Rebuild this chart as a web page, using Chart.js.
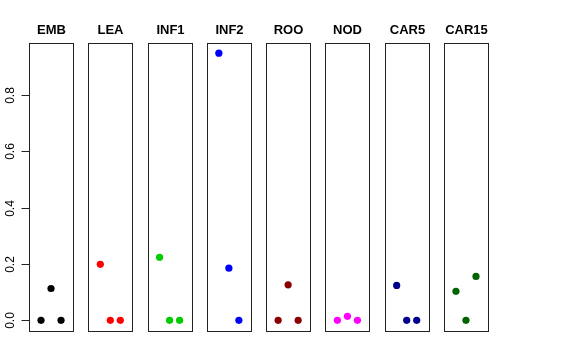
<!DOCTYPE html>
<html>
<head>
<meta charset="utf-8">
<script src="https://cdn.jsdelivr.net/npm/chart.js@4/dist/chart.umd.min.js"></script>
<style>
  html, body { margin: 0; padding: 0; background: #fff; }
  #wrap { width: 576px; height: 360px; }
</style>
</head>
<body>
<div id="wrap"><canvas id="c" width="576" height="360"></canvas></div>
<script>
// panel names, point colours and the three values in each panel
const tissues = ["EMB", "LEA", "INF1", "INF2", "ROO", "NOD", "CAR5", "CAR15"];
const colors = ["#000000", "#FF0000", "#00CD00", "#0000FF", "#8B0000", "#FF00FF", "#00008B", "#006400"];
const emb   = [0, 0.113, 0];
const lea   = [0.199, 0, 0];
const inf1  = [0.224, 0, 0];
const inf2  = [0.949, 0.185, 0];
const roo   = [0, 0.126, 0];
const nod   = [0, 0.014, 0];
const car5  = [0.124, 0, 0];
const car15 = [0.103, 0, 0.156];
const values = [emb, lea, inf1, inf2, roo, nod, car5, car15];
const yTicks = [0, 0.2, 0.4, 0.6, 0.8];

// panel geometry in x units
const panelW = 4.4, pitch = 5.92, firstPt = 1.2;

const datasets = values.map((vals, i) => ({
  label: tissues[i],
  data: vals.map((v, j) => ({ x: i * pitch + firstPt + j, y: v })),
  backgroundColor: colors[i],
  borderWidth: 0,
  pointRadius: 3.6,
  showLine: false
}));

const panels = {
  id: "panels",
  afterDraw(chart) {
    const { ctx, chartArea: a, scales: { x, y } } = chart;
    ctx.save();
    ctx.strokeStyle = "#222";
    ctx.lineWidth = 1;
    ctx.fillStyle = "#000";
    ctx.font = "bold 13px 'Liberation Sans', Arial, sans-serif";
    ctx.textAlign = "center";
    ctx.textBaseline = "alphabetic";
    tissues.forEach((t, i) => {
      const l = Math.round(x.getPixelForValue(i * pitch)) + 0.5;
      const r = Math.round(x.getPixelForValue(i * pitch + panelW)) + 0.5;
      ctx.strokeRect(l, Math.round(a.top) + 0.5, r - l, Math.round(a.bottom - a.top));
      ctx.fillText(t, (l + r) / 2, 34);
    });
    // left axis
    const ax = Math.round(a.left) + 0.5;
    ctx.beginPath();
    ctx.moveTo(ax, y.getPixelForValue(yTicks[0]));
    ctx.lineTo(ax, y.getPixelForValue(yTicks[yTicks.length - 1]));
    ctx.font = "12px 'Liberation Sans', Arial, sans-serif";
    yTicks.forEach(v => {
      const py = Math.round(y.getPixelForValue(v)) + 0.5;
      ctx.moveTo(ax - 8, py);
      ctx.lineTo(ax, py);
      ctx.save();
      ctx.translate(13.5, py);
      ctx.rotate(-Math.PI / 2);
      ctx.fillText(v.toFixed(1), 0, 0);
      ctx.restore();
    });
    ctx.stroke();
    ctx.restore();
  }
};

new Chart(document.getElementById("c"), {
  type: "scatter",
  data: { datasets },
  options: {
    responsive: false,
    animation: false,
    events: [],
    layout: { padding: { left: 29, right: 88, top: 43, bottom: 29 } },
    plugins: { legend: { display: false }, tooltip: { enabled: false } },
    scales: {
      x: { type: "linear", display: false, min: 0, max: 7 * pitch + panelW },
      y: { type: "linear", display: false, min: -0.038, max: 0.985 }
    }
  },
  plugins: [panels]
});
</script>
</body>
</html>
